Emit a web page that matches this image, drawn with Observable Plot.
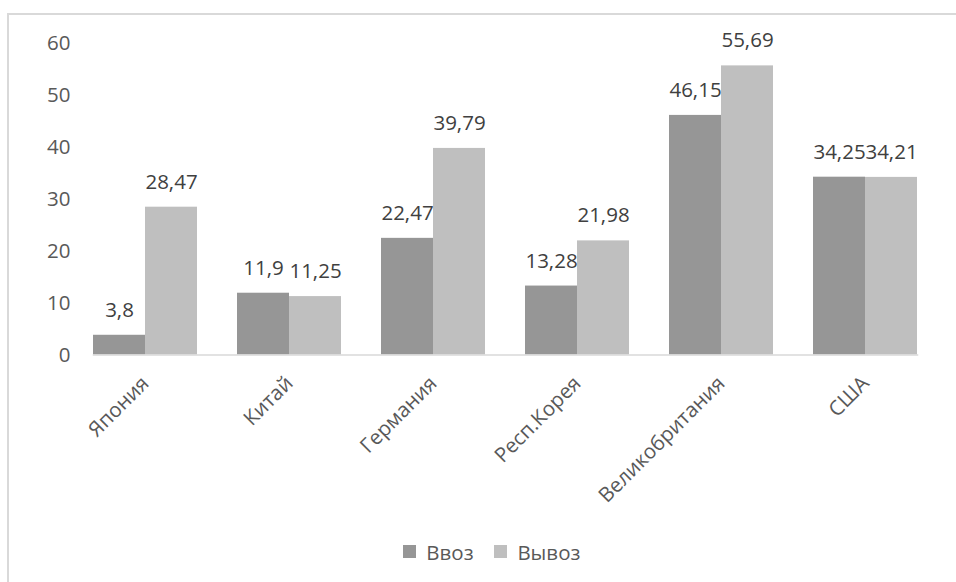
<!DOCTYPE html>
<html>
<head>
<meta charset="utf-8">
<script src="https://cdn.jsdelivr.net/npm/d3@7"></script>
<script src="https://cdn.jsdelivr.net/npm/@observablehq/plot@0.6"></script>
<style>
  html, body { margin: 0; padding: 0; background: #fff; }
  #wrap { position: relative; width: 956px; height: 582px; overflow: hidden; font-family: "Open Sans", sans-serif; }
  #border { position: absolute; left: 7px; top: 13px; width: 1000px; height: 700px; border: 2px solid #d9d9d9; box-sizing: border-box; }
  #chart { position: absolute; left: 0; top: 0; }
  #legend { position: absolute; left: 48px; width: 908px; top: 535px; display: flex; justify-content: center; }
</style>
</head>
<body>
<div id="wrap">
  <div id="border"></div>
  <div id="chart"></div>
  <div id="legend"></div>
</div>
<script>
const categories = ["Япония", "Китай", "Германия", "Респ.Корея", "Великобритания", "США"];
const seriesNames = ["Ввоз", "Вывоз"];
const importValues = [3.8, 11.9, 22.47, 13.28, 46.15, 34.25];
const exportValues = [28.47, 11.25, 39.79, 21.98, 55.69, 34.21];
const yTicks = [0, 10, 20, 30, 40, 50, 60];
const colors = ["#969696", "#bfbfbf"];

const data = [];
categories.forEach((c, i) => {
  data.push({category: c, series: seriesNames[0], value: importValues[i]});
  data.push({category: c, series: seriesNames[1], value: exportValues[i]});
});
const fmt = v => String(v).replace(".", ",");

const FS = 20.5;
const plot = Plot.plot({
  width: 956,
  height: 582,
  marginLeft: 72,
  marginRight: 17,
  marginTop: 43,
  marginBottom: 227.5,
  style: {fontFamily: "Open Sans, sans-serif", background: "transparent", overflow: "visible"},
  fx: {domain: categories, paddingInner: 0.276, paddingOuter: 0.138, label: null},
  x: {domain: seriesNames, padding: 0, axis: null},
  y: {domain: [0, 60], ticks: yTicks, label: null},
  color: {domain: seriesNames, range: colors},
  marks: [
    Plot.barY(data, {fx: "category", x: "series", y: "value", fill: "series"}),
    Plot.frame({anchor: "bottom", stroke: "#d9d9d9", strokeWidth: 1.5, facet: "super"}),
    Plot.text(data, {fx: "category", x: "series", y: "value", text: d => fmt(d.value), dy: -25, fontSize: FS, fill: "#404040"}),
    Plot.axisY({ticks: yTicks, tickSize: 0, tickPadding: 23, fontSize: FS, fill: "#595959", label: null}),
    Plot.axisFx({anchor: "bottom", tickRotate: -45, tickSize: 0, tickPadding: 25, fontSize: FS, fill: "#595959", label: null})
  ]
});
document.getElementById("chart").appendChild(plot);

const legend = Plot.legend({
  color: {domain: seriesNames, range: colors},
  swatchSize: 13,
  style: {fontSize: FS + "px", fontFamily: "Open Sans, sans-serif", color: "#595959"}
});
document.getElementById("legend").appendChild(legend);
</script>
</body>
</html>
